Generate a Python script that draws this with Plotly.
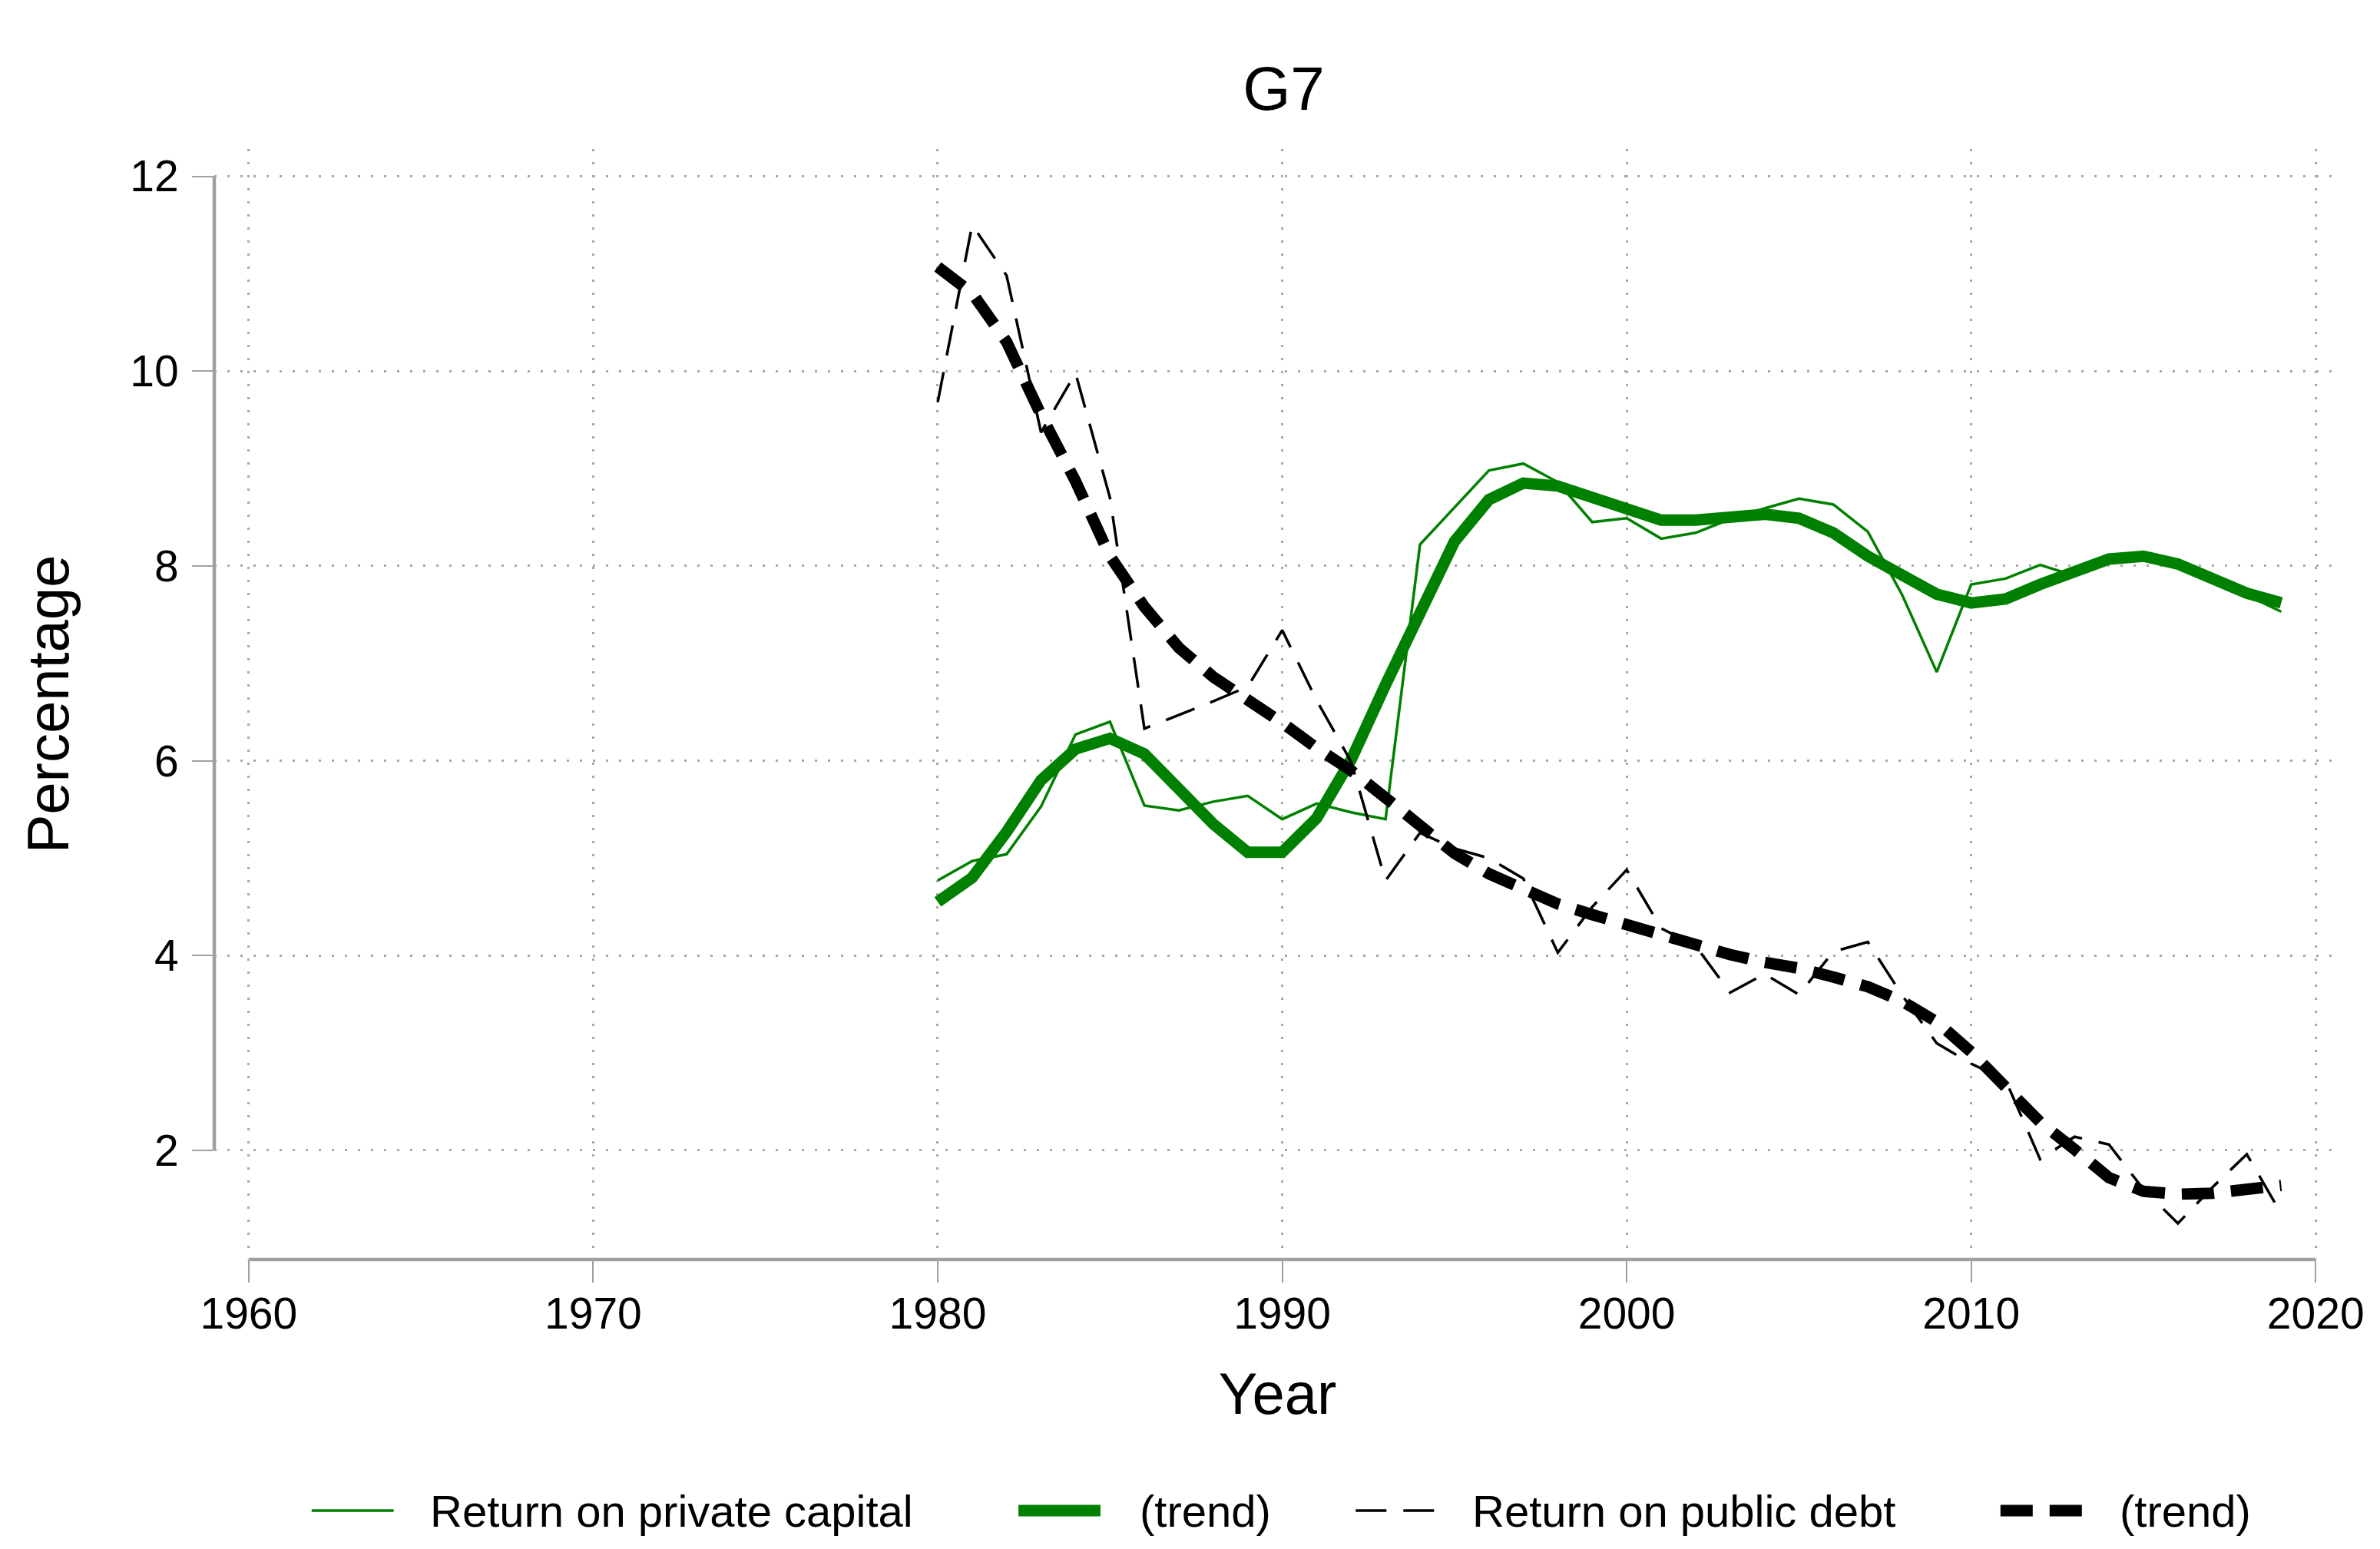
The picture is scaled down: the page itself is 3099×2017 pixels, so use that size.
import plotly.graph_objects as go

# ---------------- data ----------------
years = list(range(1980, 2020))

private_capital = [4.77, 4.97, 5.04, 5.53, 6.27, 6.40, 5.54, 5.49, 5.58, 5.64,
                   5.40, 5.56, 5.47, 5.40, 8.22, 8.60, 8.98, 9.05, 8.86, 8.45,
                   8.49, 8.28, 8.34, 8.48, 8.59, 8.69, 8.63, 8.35, 7.70, 6.91,
                   7.81, 7.87, 8.01, 7.90, 8.05, 8.08, 8.00, 7.85, 7.70, 7.53]

private_trend = [4.55, 4.80, 5.27, 5.80, 6.12, 6.23, 6.07, 5.73, 5.35, 5.06,
                 5.06, 5.41, 6.01, 6.78, 7.55, 8.25, 8.68, 8.85, 8.82, 8.70,
                 8.56, 8.47, 8.47, 8.51, 8.53, 8.49, 8.34, 8.10, 7.89, 7.71,
                 7.62, 7.66, 7.81, 7.95, 8.07, 8.10, 8.02, 7.87, 7.72, 7.62]

public_debt = [9.68, 11.50, 10.98, 9.37, 9.98, 8.70, 6.33, 6.47, 6.61, 6.76,
               7.34, 6.62, 5.99, 4.77, 5.26, 5.10, 5.00, 4.79, 4.03, 4.50,
               4.88, 4.28, 4.10, 3.62, 3.81, 3.60, 4.04, 4.14, 3.59, 3.10,
               2.89, 2.72, 1.91, 2.14, 2.06, 1.60, 1.25, 1.62, 1.96, 1.35]

public_trend = [11.07, 10.80, 10.30, 9.55, 8.87, 8.10, 7.58, 7.16, 6.86, 6.63,
                6.39, 6.13, 5.90, 5.62, 5.33, 5.05, 4.84, 4.67, 4.53, 4.42,
                4.31, 4.22, 4.12, 4.01, 3.93, 3.87, 3.78, 3.68, 3.53, 3.32,
                3.01, 2.67, 2.29, 2.01, 1.72, 1.58, 1.55, 1.56, 1.61, 1.64]

x_ticks = [1960, 1970, 1980, 1990, 2000, 2010, 2020]
y_ticks = [2, 4, 6, 8, 10, 12]

legend_labels = ["Return on private capital", "(trend)", "Return on public debt", "(trend)"]

# ---------------- layout (page pixel positions, body margin compensated) ----------------
OFF = 8
PAGE_W, PAGE_H = 3099, 2017
W, H = PAGE_W - 2 * OFF, PAGE_H - 2 * OFF
L, R, T, B = 279 - OFF, 3053 - OFF, 194 - OFF, 1640 - OFF
FONT = "Liberation Sans, Arial, Helvetica, sans-serif"
GREEN = "#008000"
BLACK = "#000000"
AXIS_GREY = "#a0a0a0"
GRID_GREY = "#a8a8a8"

styles = [
    dict(color=GREEN, width=3.5, dash="solid"),
    dict(color=GREEN, width=15, dash="solid"),
    dict(color=BLACK, width=3.5, dash="40px,22px"),
    dict(color=BLACK, width=15, dash="42px,22px"),
]
series = [private_capital, private_trend, public_debt, public_trend]

fig = go.Figure()
for vals, st, name in zip(series, styles, legend_labels):
    fig.add_trace(go.Scatter(x=years, y=vals, mode="lines", name=name,
                             line=dict(color=st["color"], width=st["width"], dash=st["dash"]),
                             showlegend=False))

def px_x(p):
    return (p - OFF - L) / (R - L)

def px_y(p):
    return (B - (p - OFF)) / (B - T)

shapes = []
# partial axis lines (Stata style)
shapes.append(dict(type="line", xref="paper", yref="y", x0=0, x1=0, y0=min(y_ticks), y1=max(y_ticks),
                   line=dict(color=AXIS_GREY, width=4.5), layer="above"))
shapes.append(dict(type="line", xref="x", yref="paper", x0=min(x_ticks), x1=max(x_ticks), y0=0, y1=0,
                   line=dict(color=AXIS_GREY, width=4.5), layer="above"))

# custom legend (page pixel positions)
leg_y = px_y(1967)
leg_items = [(406, 513, 559), (1328, 1435, 1484), (1768, 1877, 1918), (2609, 2716, 2762)]
annotations = []
for (x0, x1, xt), st, lab in zip(leg_items, styles, legend_labels):
    shapes.append(dict(type="line", xref="paper", yref="paper", x0=px_x(x0), x1=px_x(x1), y0=leg_y, y1=leg_y,
                       line=dict(color=st["color"], width=st["width"], dash=st["dash"])))
    annotations.append(dict(text=lab, xref="paper", yref="paper", x=px_x(xt), y=leg_y,
                            xanchor="left", yanchor="middle", showarrow=False,
                            font=dict(family=FONT, size=58, color="black")))

fig.update_layout(
    width=W, height=H, autosize=False,
    margin=dict(l=L, r=W - R, t=T, b=H - B, pad=0),
    paper_bgcolor="white", plot_bgcolor="white",
    font=dict(family=FONT, color="black"),
    title=dict(text="G7", x=px_x(1674), xref="paper", xanchor="center",
               y=1 - (115 - OFF) / H, yref="container", yanchor="middle",
               font=dict(family=FONT, size=80, color="black")),
    showlegend=False,
    shapes=shapes,
    annotations=annotations,
)

fig.update_xaxes(
    range=[1959.0, 2020.73], tickmode="array", tickvals=x_ticks, ticktext=[str(v) for v in x_ticks],
    showline=False, zeroline=False,
    ticks="outside", ticklen=29, tickwidth=2, tickcolor=AXIS_GREY,
    tickfont=dict(family=FONT, size=57, color="black"),
    ticklabelstandoff=-8,
    showgrid=True, gridcolor=GRID_GREY, gridwidth=3, griddash="3px,14px",
    title=dict(text="Year", font=dict(family=FONT, size=76, color="black"), standoff=46),
)
fig.update_yaxes(
    range=[0.88, 12.28], tickmode="array", tickvals=y_ticks, ticktext=[str(v) for v in y_ticks],
    showline=False, zeroline=False,
    ticks="outside", ticklen=28, tickwidth=2, tickcolor=AXIS_GREY,
    tickfont=dict(family=FONT, size=57, color="black"),
    ticklabelstandoff=6,
    showgrid=True, gridcolor=GRID_GREY, gridwidth=3, griddash="3px,14px",
    title=dict(text="Percentage", font=dict(family=FONT, size=76, color="black"), standoff=54),
)

fig.write_html("out.html")
